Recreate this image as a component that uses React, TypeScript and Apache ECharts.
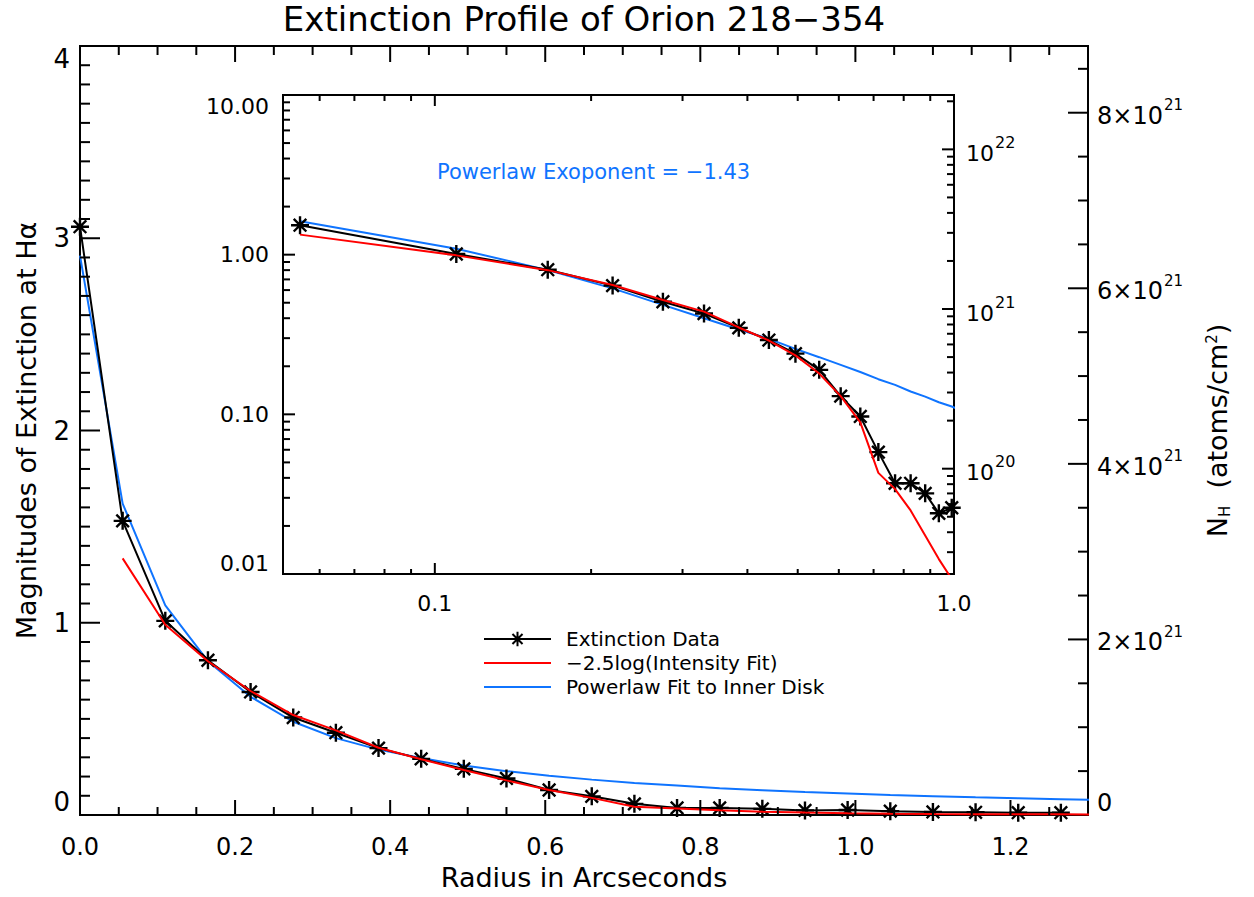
import React, { useEffect, useRef } from 'react';
import * as echarts from 'echarts';

const FONT = 'DejaVu Sans';
const BLACK = '#000000';
const RED = '#ff0000';
const BLUE = '#0f74ff';

// Radius in arcseconds of each sample
const radius = [0, 0.055, 0.11, 0.165, 0.22, 0.275, 0.33, 0.385, 0.44, 0.495, 0.55, 0.605, 0.66, 0.715, 0.77, 0.825, 0.88, 0.935, 0.99, 1.045, 1.1, 1.155, 1.21, 1.265, 1.32];
// Magnitudes of extinction at H-alpha
const extinctionData = [3.06, 1.53, 1.01, 0.805, 0.64, 0.507, 0.428, 0.348, 0.292, 0.24, 0.19, 0.13, 0.097, 0.058, 0.037, 0.037, 0.032, 0.024, 0.026, 0.02, 0.016, 0.014, 0.012, 0.012];
const intensityFit = [null, 1.335, 0.99, 0.8, 0.645, 0.52, 0.44, 0.35, 0.29, 0.234, 0.18, 0.13, 0.089, 0.043, 0.034, 0.025, 0.0174, 0.0124, 0.0093, 0.007, 0.0055, 0.0045, 0.004, 0.0035, 0.003];
const powerlawFit = [2.91, 1.62, 1.09, 0.8, 0.615, 0.485, 0.4, 0.34, 0.297, 0.257, 0.228, 0.204, 0.184, 0.166, 0.153, 0.139, 0.129, 0.119, 0.112, 0.104, 0.098, 0.092, 0.087, 0.082, 0.077];

const seriesNames = ['Extinction Data', '\u22122.5log(Intensity Fit)', 'Powerlaw Fit to Inner Disk'];
const titleText = 'Extinction Profile of Orion 218\u2212354';
const powerlawNote = 'Powerlaw Exoponent = \u22121.43';

// tick labels
const mainXTickLabels = ['0.0', '0.2', '0.4', '0.6', '0.8', '1.0', '1.2'];
const mainYTickLabels = ['0', '1', '2', '3', '4'];
const nhTickMantissas = ['0', '2', '4', '6', '8']; // x10^21
const insetXTickLabels: Record<string, string> = { '-1': '0.1', '0': '1.0' };
const insetYTickLabels: Record<string, string> = { '-2': '0.01', '-1': '0.10', '0': '1.00', '1': '10.00' };

// axis ranges
const MAIN_X = [0, 1.3];
const MAIN_Y = [0, 4];
const NH_PER_MAG = 2.19e21;
const INSET_X = [0.051, 1.0];
const INSET_Y = [0.01, 10];

const range = (start: number, stop: number, step: number) => {
  const out: number[] = [];
  for (let i = 0; start + i * step <= stop + 1e-9; i++) out.push(+(start + i * step).toFixed(10));
  return out;
};
const isMult = (v: number, step: number) => Math.abs(v / step - Math.round(v / step)) < 1e-6;
const logTicks = (lo: number, hi: number) => {
  const out: number[][] = [];
  for (let d = -3; d <= 23; d++) {
    for (let m = 1; m <= 9; m++) {
      const v = m * Math.pow(10, d);
      if (v > lo * 1.0001 && v < hi * 0.9999) out.push([v, m === 1 ? 1 : 0]);
    }
  }
  return out;
};

const lineEl = (x1: number, y1: number, x2: number, y2: number) => ({
  type: 'line',
  shape: { x1, y1, x2, y2 },
  style: { stroke: BLACK, lineWidth: 2 },
});

const tickSeries = (xAxisIndex: number, yAxisIndex: number, data: number[][], render: (api: any) => any) => ({
  type: 'custom',
  xAxisIndex,
  yAxisIndex,
  silent: true,
  z: 6,
  encode: { x: 0, y: 1 },
  data,
  renderItem: (_p: any, api: any) => render(api),
});

const supRich = {
  n: { fontSize: 24, fontFamily: FONT, color: BLACK, lineHeight: 30, verticalAlign: 'bottom' },
  sup: { fontSize: 15, fontFamily: FONT, color: BLACK, lineHeight: 30, verticalAlign: 'top', padding: [0, 0, 0, 1] },
};
const insetSupRich = {
  n: { fontSize: 22, fontFamily: FONT, color: BLACK, lineHeight: 30, verticalAlign: 'bottom' },
  sup: { fontSize: 16, fontFamily: FONT, color: BLACK, lineHeight: 30, verticalAlign: 'top', padding: [0, 0, 0, 1] },
};

export default function App() {
  const ref = useRef<HTMLDivElement>(null);
  useEffect(() => {
    if (!ref.current) return;
    const chart = echarts.init(ref.current, undefined, { renderer: 'svg' });

    const mainBlack = extinctionData.map((v, i) => [radius[i], v]);
    const mainRed = intensityFit.map((v, i) => (v == null ? null : [radius[i], v])).filter(Boolean);
    const mainBlue = powerlawFit.map((v, i) => [radius[i], v]);
    const insetBlack = mainBlack.filter((p) => p[0] > 0);
    const insetRed = (mainRed as number[][]).filter((p) => p[0] > 0);
    const insetBlue = mainBlue.filter((p) => p[0] > 0);

    const star = 'path://M10,0L10,20M0,10L20,10M3,3L17,17M3,17L17,3';

    const dataSeries = (xi: number, yi: number) => [
      {
        name: seriesNames[2], type: 'line', xAxisIndex: xi, yAxisIndex: yi, data: xi === 0 ? mainBlue : insetBlue,
        symbol: 'none', lineStyle: { color: BLUE, width: 2 }, itemStyle: { color: BLUE }, z: 2,
      },
      {
        name: seriesNames[0], type: 'line', xAxisIndex: xi, yAxisIndex: yi, data: xi === 0 ? mainBlack : insetBlack,
        symbol: star, symbolSize: 18, showAllSymbol: true,
        lineStyle: { color: BLACK, width: 2 },
        itemStyle: { color: BLACK, borderColor: BLACK, borderWidth: 2.4 }, z: 3,
      },
      {
        name: seriesNames[1], type: 'line', xAxisIndex: xi, yAxisIndex: yi, data: xi === 0 ? mainRed : insetRed,
        symbol: 'none', lineStyle: { color: RED, width: 2 }, itemStyle: { color: RED }, z: 4,
      },
    ];

    // tick definitions
    const mainXTicks = range(0.05, 1.25, 0.05).map((v) => [v, 1, isMult(v, 0.2) ? 1 : 0]);
    const mainYTicks = range(0.1, 3.9, 0.1).map((v) => [MAIN_X[0], v, isMult(v, 1) ? 1 : 0]);
    const nhMax = MAIN_Y[1] * NH_PER_MAG;
    const nhTicks = range(0.5, 8.5, 0.5).map((m) => [MAIN_X[1], m * 1e21, isMult(m, 2) ? 1 : 0]).filter((t) => t[1] < nhMax);
    const insetXTicks = logTicks(INSET_X[0], INSET_X[1] * 1.001).map((t) => [t[0], 1, t[1]]);
    const insetYTicks = logTicks(INSET_Y[0], INSET_Y[1]).map((t) => [INSET_X[0], t[0], t[1]]);
    const insetNHTicks = logTicks(INSET_Y[0] * NH_PER_MAG, INSET_Y[1] * NH_PER_MAG).map((t) => [INSET_X[1], t[0], t[1]]);

    const axisLabelBase = { color: BLACK, fontFamily: FONT };

    const option: any = {
      animation: false,
      backgroundColor: '#ffffff',
      grid: [
        { left: 80, right: 166, top: 46, bottom: 82, show: true, borderColor: BLACK, borderWidth: 2, backgroundColor: 'transparent' },
        { left: 283, right: 300, top: 95, bottom: 323, show: true, borderColor: BLACK, borderWidth: 2, backgroundColor: '#ffffff' },
      ],
      xAxis: [
        {
          type: 'value', gridIndex: 0, min: MAIN_X[0], max: MAIN_X[1], interval: 0.2,
          axisLine: { show: false }, axisTick: { show: false }, splitLine: { show: false },
          axisLabel: {
            ...axisLabelBase, fontSize: 24, margin: 20, showMaxLabel: true,
            formatter: (v: number) => (isMult(v, 0.2) ? mainXTickLabels[Math.round(v / 0.2)] ?? '' : ''),
          },
          name: 'Radius in Arcseconds', nameLocation: 'middle', nameGap: 48,
          nameTextStyle: { fontSize: 27, fontFamily: FONT, color: BLACK },
        },
        {
          type: 'log', gridIndex: 1, min: INSET_X[0], max: INSET_X[1], logBase: 10,
          axisLine: { show: false }, axisTick: { show: false }, splitLine: { show: false },
          axisLabel: {
            ...axisLabelBase, fontSize: 22, margin: 18,
            formatter: (v: number) => {
              const l = Math.log10(v);
              return Math.abs(l - Math.round(l)) < 1e-6 ? insetXTickLabels[String(Math.round(l))] ?? '' : '';
            },
          },
        },
      ],
      yAxis: [
        {
          type: 'value', gridIndex: 0, min: MAIN_Y[0], max: MAIN_Y[1], interval: 1,
          axisLine: { show: false }, axisTick: { show: false }, splitLine: { show: false },
          axisLabel: {
            ...axisLabelBase, fontSize: 26, margin: 10,
            verticalAlignMinLabel: 'bottom', verticalAlignMaxLabel: 'top',
            formatter: (v: number) => mainYTickLabels[Math.round(v)] ?? '',
          },
          name: 'Magnitudes of Extinction at H\u03b1', nameLocation: 'middle', nameGap: 40,
          nameTextStyle: { fontSize: 27, fontFamily: FONT, color: BLACK },
        },
        {
          type: 'value', gridIndex: 0, position: 'right', min: 0, max: nhMax, interval: 2e21,
          axisLine: { show: false }, axisTick: { show: false }, splitLine: { show: false },
          axisLabel: {
            ...axisLabelBase, fontSize: 24, margin: 9,
            verticalAlignMinLabel: 'bottom',
            rich: supRich,
            formatter: (v: number) => {
              const m = v / 1e21;
              if (!isMult(m, 2)) return '';
              const k = Math.round(m / 2);
              if (k === 0) return '{n|' + nhTickMantissas[0] + '}';
              return nhTickMantissas[k] ? '{n|' + nhTickMantissas[k] + '\u00d710}{sup|21}' : '';
            },
          },
          name: '{n|N}{sub|H}{n|  (atoms/cm}{sup|2}{n|)}', nameLocation: 'middle', nameGap: 112,
          nameTextStyle: {
            fontSize: 27, fontFamily: FONT, color: BLACK,
            rich: {
              n: { fontSize: 27, fontFamily: FONT, color: BLACK, lineHeight: 34, verticalAlign: 'middle' },
              sub: { fontSize: 15, fontFamily: FONT, color: BLACK, lineHeight: 34, verticalAlign: 'bottom', padding: [0, 0, 2, 0] },
              sup: { fontSize: 15, fontFamily: FONT, color: BLACK, lineHeight: 34, verticalAlign: 'top', padding: [4, 0, 0, 0] },
            },
          },
        },
        {
          type: 'log', gridIndex: 1, min: INSET_Y[0], max: INSET_Y[1], logBase: 10,
          axisLine: { show: false }, axisTick: { show: false }, splitLine: { show: false },
          axisLabel: {
            ...axisLabelBase, fontSize: 22, margin: 14,
            verticalAlignMinLabel: 'bottom', verticalAlignMaxLabel: 'top',
            formatter: (v: number) => {
              const l = Math.log10(v);
              return Math.abs(l - Math.round(l)) < 1e-6 ? insetYTickLabels[String(Math.round(l))] ?? '' : '';
            },
          },
        },
        {
          type: 'log', gridIndex: 1, position: 'right', min: INSET_Y[0] * NH_PER_MAG, max: INSET_Y[1] * NH_PER_MAG, logBase: 10,
          axisLine: { show: false }, axisTick: { show: false }, splitLine: { show: false },
          axisLabel: {
            ...axisLabelBase, fontSize: 22, margin: 12,
            rich: insetSupRich,
            formatter: (v: number) => {
              const l = Math.log10(v);
              return Math.abs(l - Math.round(l)) < 1e-6 ? '{n|10}{sup|' + Math.round(l) + '}' : '';
            },
          },
        },
      ],
      legend: {
        orient: 'vertical', left: 483, top: 629, padding: 0, itemGap: 4,
        itemWidth: 67, itemHeight: 18, selectedMode: false,
        data: [
          { name: seriesNames[0] },
          { name: seriesNames[1], itemStyle: { opacity: 0 } },
          { name: seriesNames[2], itemStyle: { opacity: 0 } },
        ],
        textStyle: { fontSize: 20, fontFamily: FONT, color: BLACK, padding: [0, 0, 0, 10], lineHeight: 20 },
      },
      graphic: [
        {
          type: 'text', x: 584, y: 19, z: 10,
          style: { text: titleText, fontSize: 34, fontFamily: FONT, fill: BLACK, textAlign: 'center', textVerticalAlign: 'middle' },
        },
        {
          type: 'text', x: 437, y: 172, z: 10,
          style: { text: powerlawNote, fontSize: 21, fontFamily: FONT, fill: BLUE, textAlign: 'left', textVerticalAlign: 'middle' },
        },
      ],
      series: [
        ...dataSeries(0, 0),
        ...dataSeries(1, 2),
        tickSeries(0, 0, mainXTicks, (api) => {
          const x = api.value(0);
          const major = api.value(2) === 1;
          const b = api.coord([x, MAIN_Y[0]]);
          const t = api.coord([x, MAIN_Y[1]]);
          return { type: 'group', children: [
            lineEl(b[0], b[1], b[0], b[1] - (major ? 15 : 8)),
            lineEl(t[0], t[1], t[0], t[1] + (major ? 16 : 9)),
          ] };
        }),
        tickSeries(0, 0, mainYTicks, (api) => {
          const p = api.coord([MAIN_X[0], api.value(1)]);
          return lineEl(p[0], p[1], p[0] + (api.value(2) === 1 ? 20 : 10), p[1]);
        }),
        tickSeries(0, 1, nhTicks, (api) => {
          const p = api.coord([MAIN_X[1], api.value(1)]);
          return lineEl(p[0], p[1], p[0] - (api.value(2) === 1 ? 20 : 10), p[1]);
        }),
        tickSeries(1, 2, insetXTicks, (api) => {
          const x = api.value(0);
          const major = api.value(2) === 1;
          const b = api.coord([x, INSET_Y[0]]);
          const t = api.coord([x, INSET_Y[1]]);
          return { type: 'group', children: [
            lineEl(b[0], b[1], b[0], b[1] - (major ? 11 : 5)),
            lineEl(t[0], t[1], t[0], t[1] + (major ? 11 : 6)),
          ] };
        }),
        tickSeries(1, 2, insetYTicks, (api) => {
          const p = api.coord([INSET_X[0], api.value(1)]);
          return lineEl(p[0], p[1], p[0] + (api.value(2) === 1 ? 12 : 7), p[1]);
        }),
        tickSeries(1, 3, insetNHTicks, (api) => {
          const p = api.coord([INSET_X[1], api.value(1)]);
          return lineEl(p[0], p[1], p[0] - (api.value(2) === 1 ? 12 : 7), p[1]);
        }),
      ],
    };

    chart.setOption(option);
    return () => chart.dispose();
  }, []);

  return <div ref={ref} style={{ position: 'fixed', left: 0, top: 0, width: 1254, height: 897, background: '#fff' }} />;
}
